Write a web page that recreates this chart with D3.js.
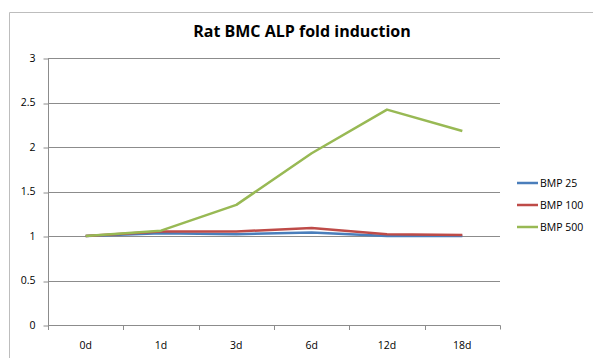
<!DOCTYPE html>
<html><head><meta charset="utf-8">
<script src="https://cdn.jsdelivr.net/npm/d3@7"></script>
<style>body{margin:0;background:#fff}svg{display:block}text{font-family:"Open Sans","Liberation Sans",sans-serif}</style>
</head><body><svg id="c" width="593" height="358"></svg>
<script>
const categories = ["0d","1d","3d","6d","12d","18d"];
const seriesNames = ["BMP 25","BMP 100","BMP 500"];
const bmp25 = [1.00,1.03,1.02,1.04,1.00,1.00];
const bmp100 = [1.00,1.05,1.05,1.09,1.02,1.01];
const bmp500 = [1.00,1.06,1.35,1.93,2.42,2.18];
const yTicks = [0,0.5,1,1.5,2,2.5,3];
const colors = ["#4a7ebb","#be4b48","#98b954"];
const series = [bmp25,bmp100,bmp500];

const svg = d3.select("#c");
const L=48,R=500,T=58,B=325;
const x = d3.scaleBand().domain(categories).range([L,R]);
const y = d3.scaleLinear().domain([0,3]).range([B,T]);

// outer border (top & left visible)
svg.append("path").attr("d","M9.5,360 V12.5 H600").attr("fill","none").attr("stroke","#bdbdbd").attr("stroke-width",1);

// title
svg.append("text").attr("x",302).attr("y",37).attr("text-anchor","middle")
  .attr("font-weight","bold").attr("font-size",16).attr("fill","#000").text("Rat BMC ALP fold induction");

// gridlines
svg.append("g").selectAll("line").data(yTicks.filter(d=>d>0)).join("line")
  .attr("x1",L).attr("x2",R).attr("y1",d=>Math.round(y(d))+0.5).attr("y2",d=>Math.round(y(d))+0.5)
  .attr("stroke","#8c8c8c").attr("stroke-width",1);

// y axis
const ya = svg.append("g").attr("transform",`translate(${L+0.5},0)`)
  .call(d3.axisLeft(y).tickValues(yTicks).tickSize(5).tickFormat(d3.format("")));
ya.select(".domain").attr("stroke","#8c8c8c").attr("d",`M0,${B+0.5}V${T}`);
ya.selectAll(".tick line").attr("stroke","#8c8c8c").attr("transform",d=>`translate(0,${Math.round(y(d))+0.5-y(d)})`);
ya.selectAll(".tick text").attr("font-size",10.5).attr("fill","#000").attr("x",-13).attr("font-family","Open Sans, Liberation Sans, sans-serif");

// x axis
const xa = svg.append("g").attr("transform",`translate(0,${B+0.5})`)
  .call(d3.axisBottom(x).tickSize(0).tickPadding(16));
xa.select(".domain").attr("stroke","#8c8c8c").attr("d",`M${L},0H${R+0.5}V4`);
xa.selectAll(".tick text").attr("font-size",10.5).attr("fill","#000").attr("font-family","Open Sans, Liberation Sans, sans-serif");
svg.append("g").selectAll("line").data(categories).join("line")
  .attr("x1",d=>Math.round(x(d))+0.5).attr("x2",d=>Math.round(x(d))+0.5)
  .attr("y1",B).attr("y2",B+5).attr("stroke","#8c8c8c");

// lines
const line = d3.line().x((d,i)=>x(categories[i])+x.bandwidth()/2).y(d=>y(d));
svg.append("g").selectAll("path").data(series).join("path")
  .attr("d",line).attr("fill","none").attr("stroke",(d,i)=>colors[i]).attr("stroke-width",2.5)
  .attr("stroke-linejoin","round").attr("stroke-linecap","butt");

// legend
const lg = svg.append("g").selectAll("g").data(seriesNames).join("g")
  .attr("transform",(d,i)=>`translate(517,${183+i*22})`);
lg.append("line").attr("x1",0).attr("x2",21).attr("y1",0).attr("y2",0)
  .attr("stroke",(d,i)=>colors[i]).attr("stroke-width",2.5);
lg.append("text").attr("x",23).attr("y",4).attr("font-size",10.5).attr("fill","#000").text(d=>d);
</script></body></html>
